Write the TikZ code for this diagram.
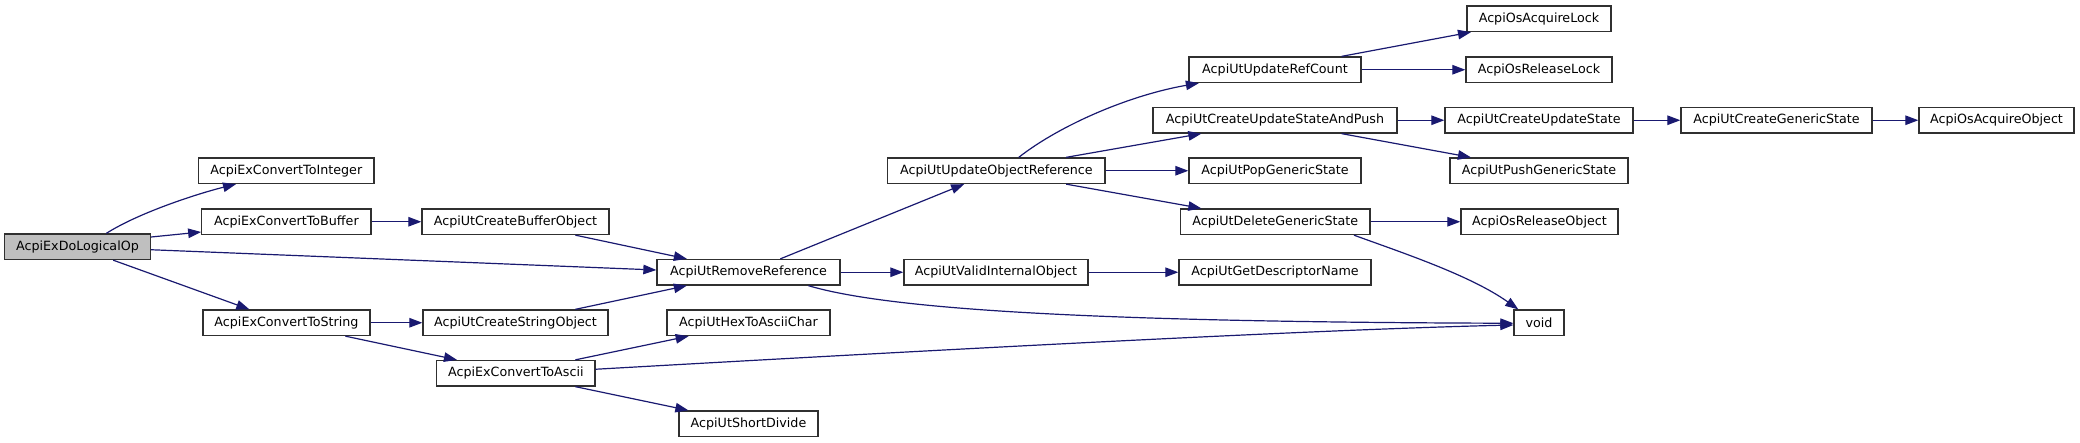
\documentclass[tikz,border=0pt]{standalone}
\usepackage{fontspec}
\setmainfont{DejaVu Sans}
\usetikzlibrary{arrows.meta}
\definecolor{edgeblue}{HTML}{191970}
\definecolor{rootgray}{HTML}{BFBFBF}
\definecolor{boxline}{HTML}{303030}
\tikzset{
  box/.style={draw=boxline, line width=1.3pt, fill=white, rectangle, inner sep=0pt,
    minimum height=25.5pt, font=\fontsize{12.7}{14}\selectfont, text=black},
  rootbox/.style={box, fill=rootgray},
  call/.style={draw=edgeblue, line width=1.2pt, -{Triangle[length=13pt,width=9.5pt]}}
}
\begin{document}
\begin{tikzpicture}[x=1pt,y=-1pt]
\useasboundingbox (0,0) rectangle (2080,443);
% column 0
\node[rootbox, minimum width=146pt] (dlo) at (77.5,246.75) {AcpiExDoLogicalOp};
% column 1
\node[box, minimum width=175.3pt] (int) at (286.3,170.75) {AcpiExConvertToInteger};
\node[box, minimum width=169.2pt] (buf) at (286.4,221.75) {AcpiExConvertToBuffer};
\node[box, minimum width=167pt] (str) at (286.5,322.75) {AcpiExConvertToString};
% column 2
\node[box, minimum width=187pt] (cbo) at (515.5,221.75) {AcpiUtCreateBufferObject};
\node[box, minimum width=185pt] (cso) at (515.5,322.75) {AcpiUtCreateStringObject};
\node[box, minimum width=158.4pt] (asc) at (515.8,373.25) {AcpiExConvertToAscii};
% column 3
\node[box, minimum width=183pt] (rr) at (748.5,272.25) {AcpiUtRemoveReference};
\node[box, minimum width=163pt] (hex) at (748.5,322.75) {AcpiUtHexToAsciiChar};
\node[box, minimum width=139pt] (sd) at (748.5,423.75) {AcpiUtShortDivide};
% column 4
\node[box, minimum width=217.2pt] (uor) at (996.4,170.75) {AcpiUtUpdateObjectReference};
\node[box, minimum width=184pt] (vio) at (996,272.25) {AcpiUtValidInternalObject};
% column 5
\node[box, minimum width=172pt] (urc) at (1275,69.75) {AcpiUtUpdateRefCount};
\node[box, minimum width=244pt] (cusap) at (1275,120.25) {AcpiUtCreateUpdateStateAndPush};
\node[box, minimum width=172pt] (pop) at (1275,170.75) {AcpiUtPopGenericState};
\node[box, minimum width=189.4pt] (dgs) at (1275.3,221.75) {AcpiUtDeleteGenericState};
\node[box, minimum width=192pt] (gdn) at (1275,272.25) {AcpiUtGetDescriptorName};
% column 6
\node[box, minimum width=144pt] (acl) at (1539,18.75) {AcpiOsAcquireLock};
\node[box, minimum width=146pt] (rl) at (1539,69.75) {AcpiOsReleaseLock};
\node[box, minimum width=188pt] (cus) at (1539,120.25) {AcpiUtCreateUpdateState};
\node[box, minimum width=178pt] (pgs) at (1539,170.75) {AcpiUtPushGenericState};
\node[box, minimum width=157pt] (ro) at (1539.5,221.75) {AcpiOsReleaseObject};
\node[box, minimum width=50pt] (void) at (1539,322.75) {void};
% column 7, 8
\node[box, minimum width=191pt] (cgs) at (1776.5,120.25) {AcpiUtCreateGenericState};
\node[box, minimum width=155pt] (aco) at (1996.5,120.25) {AcpiOsAcquireObject};

% edges
\draw[call] ([xshift=102.5pt]dlo.north west) .. controls (140,212) and (200,193) .. ([xshift=38pt]int.south west);
\draw[call] ([yshift=9.75pt]dlo.east) -- ([yshift=-10.25pt]buf.west);
\draw[call] ([yshift=-3pt]dlo.east) -- ([yshift=2.25pt]rr.west);
\draw[call] ([xshift=109.3pt]dlo.south west) -- ([xshift=47pt]str.north west);
\draw[call] (buf.east) -- (cbo.west);
\draw[call] ([xshift=154pt]cbo.south west) -- ([xshift=30.5pt]rr.north west);
\draw[call] (str.east) -- (cso.west);
\draw[call] ([xshift=143pt]str.south west) -- ([xshift=21pt]asc.north west);
\draw[call] ([xshift=153pt]cso.north west) -- ([xshift=30.5pt]rr.south west);
\draw[call] ([xshift=139.4pt]asc.north west) -- ([xshift=22.3pt]hex.south west);
\draw[call] ([yshift=4pt]asc.east) .. controls (900,352) and (1300,330) .. ([yshift=-2.25pt]void.west);
\draw[call] ([xshift=139.4pt]asc.south west) -- ([xshift=10pt]sd.north west);
\draw[call] ([xshift=124pt]rr.north west) -- ([xshift=77pt]uor.south west);
\draw[call] (rr.east) -- (vio.west);
\draw[call] ([xshift=152pt]rr.south west) .. controls (890,310) and (1100,322) .. ([yshift=-0.5pt]void.west);
\draw[call] ([xshift=131.6pt]uor.north west) .. controls (1060,125) and (1130,95) .. ([xshift=10.5pt]urc.south west);
\draw[call] ([xshift=179pt]uor.north west) -- ([xshift=49pt]cusap.south west);
\draw[call] (uor.east) -- (pop.west);
\draw[call] ([xshift=179pt]uor.south west) -- ([xshift=21.4pt]dgs.north west);
\draw[call] (vio.east) -- (gdn.west);
\draw[call] ([xshift=153.3pt]urc.north west) -- ([xshift=4.6pt]acl.south west);
\draw[call] (urc.east) -- (rl.west);
\draw[call] (cusap.east) -- (cus.west);
\draw[call] ([xshift=189.3pt]cusap.south west) -- ([xshift=21.6pt]pgs.north west);
\draw[call] (cus.east) -- (cgs.west);
\draw[call] (cgs.east) -- (aco.west);
\draw[call] (dgs.east) -- (ro.west);
\draw[call] ([xshift=174pt]dgs.south west) .. controls (1400,252) and (1470,275) .. ([xshift=4.9pt]void.north west);
\end{tikzpicture}
\end{document}
